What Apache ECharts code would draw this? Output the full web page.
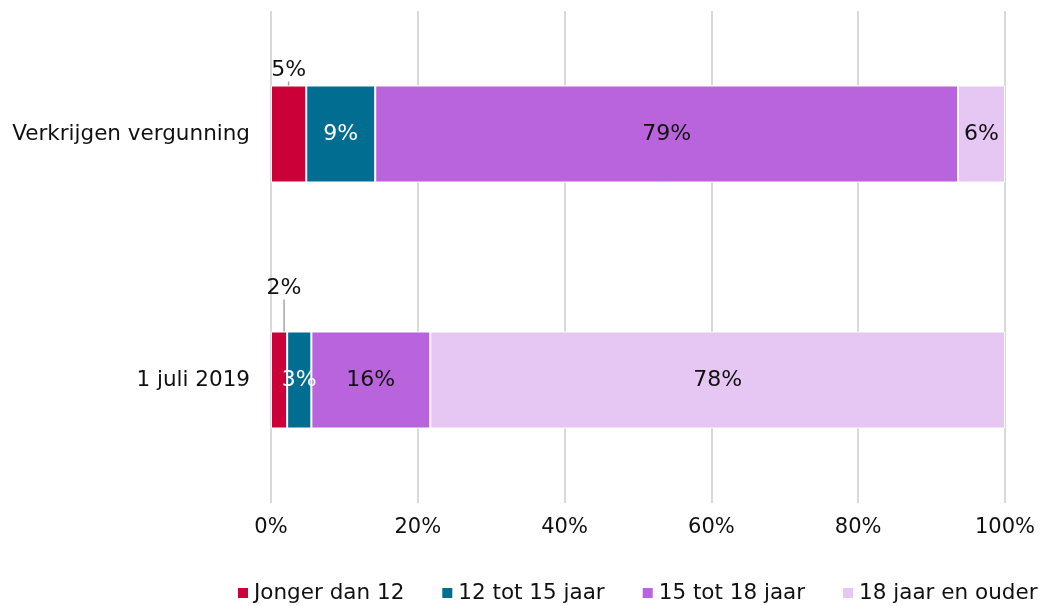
<!DOCTYPE html>
<html>
<head>
<meta charset="utf-8">
<script src="https://cdn.jsdelivr.net/npm/echarts@6/dist/echarts.min.js"></script>
<style>
html, body { margin: 0; padding: 0; background: #fff; }
#chart { width: 1042px; height: 606px; }
</style>
</head>
<body>
<div id="chart"></div>
<script>
// categories, top to bottom
var categories = ['Verkrijgen vergunning', '1 juli 2019'];
var seriesNames = ['Jonger dan 12', '12 tot 15 jaar', '15 tot 18 jaar', '18 jaar en ouder'];
var jongerDan12 = [4.8, 2.2];
var tot15 = [9.4, 3.3];
var tot18 = [79.4, 16.2];
var ouder18 = [6.4, 78.3];
var xTicks = [0, 20, 40, 60, 80, 100];

var colors = ['#cc0038', '#006d91', '#b964dc', '#e6c6f3'];
var labelColors = ['#111111', '#ffffff', '#111111', '#111111'];
var font = 'DejaVu Sans, Verdana, sans-serif';

var values = [jongerDan12, tot15, tot18, ouder18];

var series = values.map(function (vals, i) {
    var s = {
        name: seriesNames[i],
        type: 'bar',
        stack: 'total',
        barWidth: 97,
        data: vals,
        itemStyle: {
            color: colors[i],
            borderColor: '#ffffff',
            borderWidth: 1
        },
        label: {
            show: true,
            position: 'inside',
            color: labelColors[i],
            fontFamily: font,
            fontSize: 22,
            formatter: function (p) { return Math.round(p.value) + '%'; }
        }
    };
    if (i === 0) {
        s.label.position = 'top';
        s.label.distance = 4;
        s.labelLayout = function (p) {
            if (p.dataIndex === 1) {
                return { dy: -28, dx: 5 };
            }
            return {};
        };
        s.labelLine = {
            show: true,
            length2: 0,
            lineStyle: { color: '#a6a6a6', width: 1.5 }
        };
    }
    return s;
});

var chart = echarts.init(document.getElementById('chart'), null, { renderer: 'canvas' });
chart.setOption({
    animation: false,
    color: colors,
    grid: {
        left: 271,
        right: 37,
        top: 11,
        bottom: 103,
        containLabel: false
    },
    legend: {
        top: 582,
        left: 236,
        width: 900,
        padding: 0,
        itemWidth: 12,
        itemHeight: 12,
        itemGap: 36,
        icon: 'rect',
        textStyle: {
            fontFamily: font,
            fontSize: 21.5,
            color: '#111111'
        },
        data: seriesNames
    },
    xAxis: {
        type: 'value',
        min: xTicks[0],
        max: xTicks[xTicks.length - 1],
        interval: 20,
        axisLine: { show: false },
        axisTick: { show: false },
        splitLine: { lineStyle: { color: '#d9d9d9', width: 2 } },
        axisLabel: {
            margin: 14,
            fontFamily: font,
            fontSize: 21,
            color: '#111111',
            formatter: '{value}%'
        }
    },
    yAxis: {
        type: 'category',
        data: categories,
        inverse: true,
        axisLine: { show: false },
        axisTick: { show: false },
        axisLabel: {
            margin: 21,
            fontFamily: font,
            fontSize: 21.5,
            color: '#111111'
        }
    },
    series: series
});
window.onresize = function () { chart.resize(); };
</script>
</body>
</html>
